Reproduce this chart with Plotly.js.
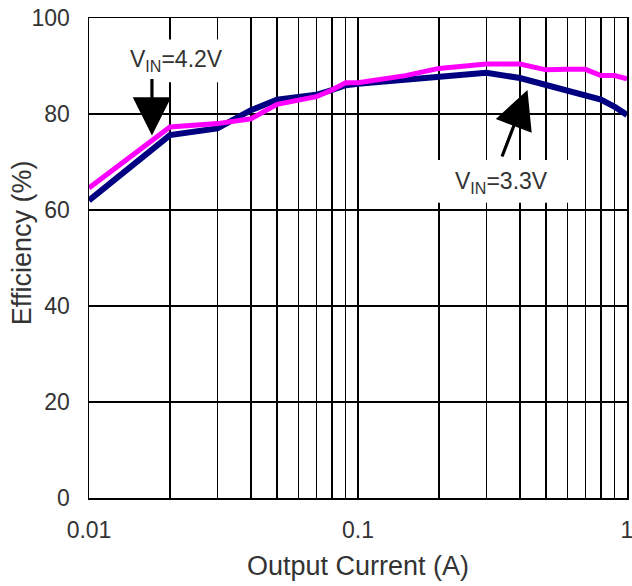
<!DOCTYPE html>
<html><head><meta charset="utf-8">
<script src="https://cdn.plot.ly/plotly-3.0.1.min.js"></script>
<style>html,body{margin:0;padding:0;background:#fff;}#chart{width:632px;height:586px;}</style>
</head><body><div id="chart"></div>
<script>
const current = [0.01, 0.02, 0.03, 0.04, 0.05, 0.07, 0.08, 0.09, 0.1, 0.15, 0.2, 0.3, 0.4, 0.5, 0.6, 0.7, 0.8, 0.9, 1.0];
const eff33 = [62, 75.6, 77, 80.8, 83, 84, 85, 86, 86.3, 87.2, 88, 88.6, 87.5, 86, 85, 84, 83, 81.5, 79.8];
const eff42 = [64.6, 77.3, 78, 79, 82, 83.6, 85, 86.5, 86.5, 88, 89.5, 90.4, 90.4, 89.2, 89.3, 89.3, 88, 88, 87.3];
const xTickVals = [0.01,0.02,0.03,0.04,0.05,0.06,0.07,0.08,0.09,0.1,0.2,0.3,0.4,0.5,0.6,0.7,0.8,0.9,1];
const xTickText = ['0.01','','','','','','','','','0.1','','','','','','','','','1'];
const yTickVals = [0, 20, 40, 60, 80, 100];
const labels = ['V<sub>IN</sub>=4.2V', 'V<sub>IN</sub>=3.3V'];
const yTitle = 'Efficiency (%)';

const font = {family: 'Liberation Sans, Arial, sans-serif', color: '#333'};
const f = s => Object.assign({size: s}, font);
const traces = [
  {x: current, y: eff33, mode: 'lines', line: {color: '#000080', width: 6}, hoverinfo: 'none'},
  {x: current, y: eff42, mode: 'lines', line: {color: '#ff00ff', width: 5}, hoverinfo: 'none'}
];
const layout = {
  width: 632, height: 586,
  margin: {l: 89, r: 5, t: 18, b: 88},
  paper_bgcolor: '#fff', plot_bgcolor: '#fff',
  showlegend: false,
  font: f(23),
  xaxis: {
    type: 'log', range: [-2, 0],
    tickvals: xTickVals, ticktext: xTickText, ticklabeloverflow: 'allow',
    showgrid: true, gridcolor: '#000', gridwidth: 1.3,
    showline: true, linecolor: '#000', linewidth: 1.5, mirror: true,
    ticks: 'outside', ticklen: 11, tickcolor: 'rgba(0,0,0,0)', zeroline: false,
    tickfont: f(23),
    title: {text: 'Output Current (A)', font: f(27), standoff: 14}
  },
  yaxis: {
    range: [0, 100], tickvals: yTickVals,
    showgrid: true, gridcolor: '#000', gridwidth: 1.3,
    showline: true, linecolor: '#000', linewidth: 1.5, mirror: true,
    ticks: 'outside', ticklen: 13, tickcolor: 'rgba(0,0,0,0)', zeroline: false,
    tickfont: f(23)
  },
  shapes: [
    {type: 'rect', xref: 'paper', yref: 'paper', x0: 0.02, x1: 0.27, y0: 0.866, y1: 0.955, fillcolor: '#fff', line: {width: 0}, layer: 'above'},
    {type: 'rect', xref: 'paper', yref: 'paper', x0: 0.615, x1: 0.903, y0: 0.615, y1: 0.704, fillcolor: '#fff', line: {width: 0}, layer: 'above'}
  ],
  annotations: [
    {xref: 'paper', yref: 'paper', x: -0.1245, y: 0.531, xanchor: 'center', yanchor: 'middle', textangle: -90, text: yTitle, showarrow: false, font: f(27)},
    {xref: 'paper', yref: 'paper', x: 0.162, y: 0.9125, xanchor: 'center', yanchor: 'middle', text: labels[0], showarrow: false, font: f(23)},
    {xref: 'paper', yref: 'paper', x: 0.766, y: 0.658, xanchor: 'center', yanchor: 'middle', text: labels[1], showarrow: false, font: f(23)},
    {xref: 'paper', yref: 'paper', x: 0.117, y: 0.755, ax: 0, ay: -58, text: '', showarrow: true, arrowhead: 2, arrowsize: 2.4, arrowwidth: 3.2, arrowcolor: '#000'},
    {xref: 'paper', yref: 'paper', x: 0.815, y: 0.85, ax: -26, ay: 68, text: '', showarrow: true, arrowhead: 2, arrowsize: 2.4, arrowwidth: 3.2, arrowcolor: '#000'}
  ]
};
Plotly.newPlot('chart', traces, layout, {displayModeBar: false, staticPlot: true});
</script></body></html>
